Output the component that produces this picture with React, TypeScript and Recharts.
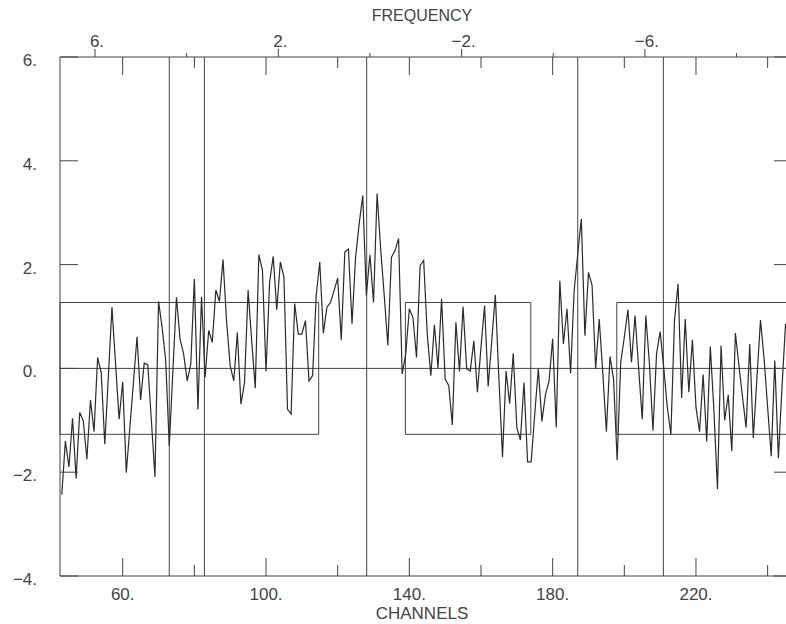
import React from 'react';
import {
  LineChart,
  Line,
  XAxis,
  YAxis,
  ReferenceLine,
  ReferenceArea,
} from 'recharts';

// spectrum: one value per channel, starting at channel 43
const FIRST_CHANNEL = 43;
const SPECTRUM = [
  -2.43, -1.4, -1.9, -0.96, -2.12, -0.85, -1.01, -1.75, -0.61, -1.22, // 43-52
  0.21, -0.08, -1.46, -0.15, 1.18, 0.1, -0.98, -0.26, -2.01, -1.14, // 53-62
  -0.27, 0.61, -0.61, 0.1, 0.07, -1.0, -2.09, 1.29, 0.79, 0.15, // 63-72
  -1.49, -0.06, 1.37, 0.57, 0.28, -0.24, 0.08, 1.72, -0.79, 1.38, // 73-82
  -0.17, 0.73, 0.5, 1.51, 1.29, 2.1, 0.9, 0.05, -0.24, 0.69, // 83-92
  -0.69, -0.27, 1.51, 0.53, -0.38, 2.19, 1.89, -0.06, 1.66, 2.16, // 93-102
  1.13, 2.05, 1.76, -0.79, -0.88, 1.25, 0.66, 0.66, 0.92, -0.24, // 103-112
  -0.14, 1.4, 2.05, 0.68, 1.18, 1.27, 1.5, 1.74, 0.55, 2.24, // 113-122
  2.3, 0.86, 2.14, 2.79, 3.33, 1.4, 2.19, 1.27, 3.37, 2.3, // 123-132
  1.4, 0.44, 2.14, 2.27, 2.5, -0.11, 0.28, 1.15, 0.98, 0.21, // 133-142
  1.98, 2.08, 0.66, -0.14, 0.84, 0.01, 1.34, -0.21, -0.33, -1.09, // 143-152
  0.89, -0.06, 1.19, -0.01, -0.05, 0.53, -0.46, 0.41, 1.21, -0.35, // 153-162
  0.53, 1.42, -0.2, -1.71, -0.05, -0.68, 0.29, -1.14, -1.38, -0.27, // 163-172
  -1.8, -1.8, -0.88, -0.01, -1.02, -0.5, -0.24, 0.57, -1.14, 1.69, // 173-182
  0.47, 1.15, -0.1, 1.5, 2.2, 2.88, 0.63, 1.85, 1.6, -0.01, // 183-192
  0.95, -0.1, -1.22, 0.23, -0.21, -1.77, 0.12, 0.6, 1.13, 0.12, // 193-202
  1.02, 0.0, -0.98, 1.02, 0.1, -1.2, 0.28, 0.71, 0.02, -0.75, // 203-212
  -1.27, 0.92, 1.63, -0.57, 0.95, -0.46, 0.55, -0.75, -1.22, -0.12, // 213-222
  -1.41, 0.42, -0.8, -2.33, 0.44, -1.0, -0.51, -1.59, 0.68, 0.05, // 223-232
  -0.56, -1.14, 0.47, -1.34, -0.2, 0.93, 0.2, -0.75, -1.69, 0.15, // 233-242
  -1.73, -0.37, 0.86, // 243-245
];

const CHANNEL_DOMAIN = [42.5, 246.8];
const CHANNEL_MAJOR = [60, 100, 140, 180, 220];
const CHANNEL_MINOR = [80, 120, 160, 200, 240];
const Y_TICKS = [-4, -2, 0, 2, 4, 6];
const FREQ_MAJOR = [6, 2, -2, -6];
const FREQ_MINOR = [4, 0, -4, -8];
const MARKERS = [73.0, 82.8, 128.1, 187.0, 210.9];
const WINDOWS = [
  [42.5, 114.7],
  [138.9, 173.9],
  [197.9, 246.8],
];
const RMS = 1.27;

// frequency axis is linear in channel number
const FREQ_AT_52 = 6; // 6. sits at channel 52.27
const CH_PER_FREQ = 12.79;
const freqToCh = (f: number) => 52.27 + (FREQ_AT_52 - f) * CH_PER_FREQ;
const chToFreq = (c: number) => Math.round(FREQ_AT_52 - (c - 52.27) / CH_PER_FREQ);

const data = SPECTRUM.map((v, i) => ({ ch: FIRST_CHANNEL + i, v }));

const W = 792;
const H = 624;
const PLOT_LEFT = 60;
const PLOT_TOP = 57;
const PLOT_BOTTOM = 576;
const PLOT_RIGHT = W;

const INK = '#444';
const FONT = '"Liberation Sans", Arial, sans-serif';

const fmt = (n: number) => (n < 0 ? '\u2212' + Math.abs(n) : String(n)) + '.';

const ChannelTick = (props: any) => {
  const { x, payload } = props;
  const major = CHANNEL_MAJOR.includes(payload.value);
  const len = major ? 18 : 11;
  return (
    <g>
      <line x1={x} x2={x} y1={PLOT_BOTTOM} y2={PLOT_BOTTOM - len} stroke={INK} />
      <line x1={x} x2={x} y1={PLOT_TOP} y2={PLOT_TOP + len} stroke={INK} />
      {major && (
        <text x={x} y={600} textAnchor="middle" fill={INK} fontSize={17} fontFamily={FONT}>
          {fmt(payload.value)}
        </text>
      )}
    </g>
  );
};

const FreqTick = (props: any) => {
  const { x, payload } = props;
  const f = chToFreq(payload.value);
  const major = FREQ_MAJOR.includes(f);
  return (
    <g>
      <line x1={x} x2={x} y1={PLOT_TOP} y2={PLOT_TOP - (major ? 8 : 4)} stroke={INK} />
      {major && (
        <text x={x + 2} y={47} textAnchor="middle" fill={INK} fontSize={17} fontFamily={FONT}>
          {fmt(f)}
        </text>
      )}
    </g>
  );
};

const ValueTick = (props: any) => {
  const { y, payload } = props;
  return (
    <g>
      <line x1={PLOT_LEFT} x2={PLOT_LEFT + 18} y1={y} y2={y} stroke={INK} />
      <line x1={PLOT_RIGHT} x2={PLOT_RIGHT - 18} y1={y} y2={y} stroke={INK} />
      <text x={37} y={y + 9} textAnchor="end" fill={INK} fontSize={17} fontFamily={FONT}>
        {fmt(payload.value)}
      </text>
    </g>
  );
};

export default function App() {
  return (
    <div
      style={{
        position: 'absolute',
        left: 0,
        top: 0,
        width: 786,
        height: 624,
        overflow: 'hidden',
        background: '#fff',
      }}
    >
      <LineChart width={W} height={H} data={data} margin={{ top: 0, right: 0, bottom: 0, left: 0 }}>
        <XAxis
          xAxisId="bottom"
          type="number"
          dataKey="ch"
          domain={CHANNEL_DOMAIN}
          allowDataOverflow
          ticks={[...CHANNEL_MAJOR, ...CHANNEL_MINOR].sort((a, b) => a - b)}
          interval={0}
          height={H - PLOT_BOTTOM}
          tickLine={false}
          tickSize={0}
          axisLine={{ stroke: INK }}
          tick={<ChannelTick />}
          label={{
            value: 'CHANNELS',
            position: 'insideBottom',
            offset: 5,
            dx: -4,
            fill: INK,
            fontSize: 17,
            fontFamily: FONT,
          }}
        />
        <XAxis
          xAxisId="top"
          orientation="top"
          type="number"
          dataKey="ch"
          domain={CHANNEL_DOMAIN}
          allowDataOverflow
          ticks={[...FREQ_MAJOR, ...FREQ_MINOR].map(freqToCh).sort((a, b) => a - b)}
          interval={0}
          height={PLOT_TOP}
          tickLine={false}
          tickSize={0}
          axisLine={{ stroke: INK }}
          tick={<FreqTick />}
          label={{
            value: 'FREQUENCY',
            position: 'insideTop',
            offset: 10,
            dx: -4,
            fill: INK,
            fontSize: 16,
            fontFamily: FONT,
          }}
        />
        <YAxis
          yAxisId="left"
          type="number"
          domain={[-4, 6]}
          ticks={Y_TICKS}
          interval={0}
          width={PLOT_LEFT}
          tickLine={false}
          tickSize={0}
          axisLine={{ stroke: INK }}
          tick={<ValueTick />}
        />
        {WINDOWS.map(([a, b], i) => (
          <ReferenceArea
            key={'w' + i}
            xAxisId="bottom"
            yAxisId="left"
            x1={a}
            x2={b}
            y1={-RMS}
            y2={RMS}
            fill="none"
            stroke={INK}
            strokeWidth={1}
          />
        ))}
        {MARKERS.map((m) => (
          <ReferenceLine key={'m' + m} xAxisId="bottom" yAxisId="left" x={m} stroke={INK} strokeWidth={1} />
        ))}
        <ReferenceLine xAxisId="bottom" yAxisId="left" y={0} stroke={INK} strokeWidth={1} />
        <Line
          xAxisId="bottom"
          yAxisId="left"
          type="linear"
          dataKey="v"
          stroke="#2b2b2b"
          strokeWidth={1.2}
          dot={false}
          isAnimationActive={false}
        />
      </LineChart>
    </div>
  );
}
